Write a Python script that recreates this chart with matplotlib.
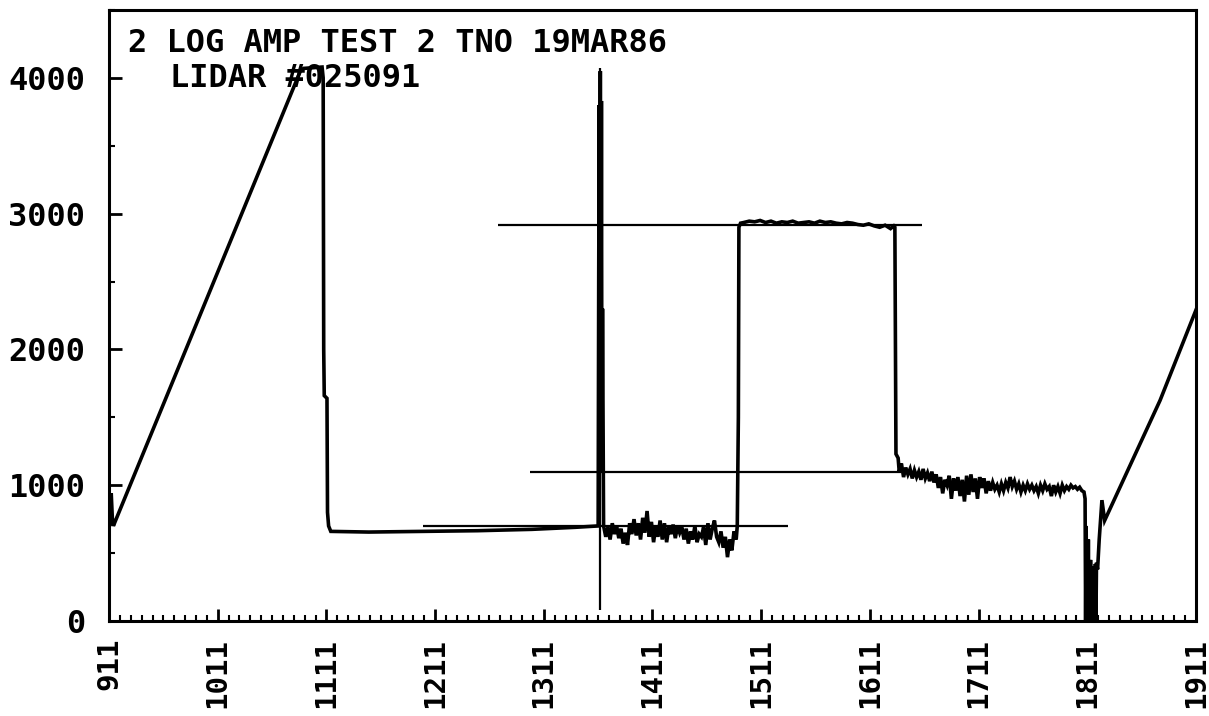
"""
Lidar log amp test trace, 19MAR86 - redrawn from the plotter output.
"""

import numpy as np
import matplotlib
matplotlib.use("Agg")
import matplotlib.pyplot as plt
from matplotlib.ticker import MultipleLocator, FixedLocator

# ---- 1. Data ----
# lead-in ramp and first drop
ramp_x = [911, 912, 913, 914, 915, 917, 1087, 1090, 1107, 1108, 1108.5, 1109, 1111.5, 1112, 1113, 1115,
          1150, 1200, 1250, 1300, 1340, 1361]
ramp_y = [690, 720, 940, 760, 700, 740, 4050, 4070, 4080, 4000, 2000, 1660, 1640, 800, 700, 660,
          655, 660, 665, 675, 690, 700]

# spike at the cursor
spike_x = [1361.5, 1362, 1362.5, 1363, 1363.5, 1364, 1364.5, 1365]
spike_y = [2500, 3800, 1200, 4050, 1100, 3830, 1100, 2300]

# noisy low section
low_x = [1366, 1368, 1370, 1372, 1374, 1376, 1378, 1380, 1382, 1384, 1386, 1388, 1390, 1392, 1394, 1396,
         1398, 1400, 1402, 1404, 1406, 1408, 1410, 1412, 1414, 1416, 1418, 1420, 1422, 1424, 1426, 1428,
         1430, 1432, 1434, 1436, 1438, 1440, 1442, 1444, 1446, 1448, 1450, 1452, 1454, 1456, 1458, 1460,
         1462, 1464, 1466, 1468, 1470, 1472, 1474, 1476, 1478, 1480, 1482, 1484, 1486, 1488]
low_y = [700, 620, 690, 600, 720, 640, 700, 610, 680, 570, 650, 560, 720, 640, 750, 630,
         720, 600, 760, 650, 810, 620, 730, 580, 700, 620, 740, 600, 720, 580, 690, 640,
         710, 610, 700, 650, 690, 600, 680, 570, 660, 600, 700, 580, 640, 620, 690, 560,
         720, 600, 680, 740, 620, 580, 660, 540, 620, 470, 600, 520, 660, 600]

# step up and the high plateau
high_x = [1489, 1490, 1490.5, 1492, 1495, 1500, 1505, 1510, 1515, 1520, 1525, 1530, 1535, 1540, 1545,
          1550, 1555, 1560, 1565, 1570, 1575, 1580, 1585, 1590, 1595, 1600, 1605, 1610, 1615, 1620,
          1625, 1630, 1633, 1634, 1634.5, 1635, 1637, 1638]
high_y = [700, 1500, 2900, 2930, 2935, 2945, 2940, 2950, 2935, 2945, 2930, 2940, 2935, 2945, 2930,
          2935, 2940, 2930, 2945, 2935, 2940, 2930, 2925, 2935, 2930, 2920, 2915, 2925, 2910, 2900,
          2915, 2890, 2910, 2900, 2000, 1230, 1200, 1100]

# noisy middle section
mid_x = [1640, 1642, 1644, 1646, 1648, 1650, 1652, 1654, 1656, 1658, 1660, 1662, 1664, 1666, 1668, 1670,
         1672, 1674, 1676, 1678, 1680, 1682, 1684, 1686, 1688, 1690, 1692, 1694, 1696, 1698, 1700, 1702,
         1704, 1706, 1708, 1710, 1712, 1714, 1716, 1718, 1720, 1722, 1724, 1726, 1728, 1730, 1732, 1734,
         1736, 1738, 1740, 1742, 1744, 1746, 1748, 1750, 1752, 1754, 1756, 1758, 1760, 1762, 1764, 1766,
         1768, 1770, 1772, 1774, 1776, 1778, 1780, 1782, 1784, 1786, 1788, 1790, 1792, 1794, 1796, 1798,
         1800, 1802, 1804, 1806, 1808]
mid_y = [1160, 1060, 1130, 1080, 1120, 1050, 1110, 1060, 1100, 1040, 1120, 1050, 1090, 1030, 1100, 1020,
         1080, 980, 1060, 940, 1040, 1000, 1070, 900, 1050, 960, 1060, 920, 1040, 880, 1070, 930,
         1080, 950, 1050, 900, 1060, 980, 1050, 940, 1030, 960, 1020, 970, 1000, 950, 1010, 960,
         1020, 980, 1060, 990, 1030, 970, 1010, 950, 1000, 960, 1010, 970, 1000, 960, 990, 940,
         1000, 960, 1010, 970, 990, 920, 1000, 950, 990, 940, 1000, 960, 990, 970, 1000, 980,
         990, 970, 985, 960, 950]

# dropout to zero and the closing ramp
end_x = [1809, 1809.5, 1810, 1810.5, 1811, 1811.5, 1812, 1812.5, 1813, 1813.5, 1814, 1814.5, 1815,
         1815.5, 1816, 1816.5, 1817, 1817.5, 1818, 1818.5, 1819, 1819.5, 1820.5, 1822, 1824.5, 1827,
         1878, 1911]
end_y = [900, 0, 700, 0, 500, 0, 600, 0, 300, 0, 450, 0, 350,
         0, 250, 0, 400, 0, 200, 420, 0, 430, 380, 600, 890, 740,
         1625, 2290]

# cursor lines
cursor_x = 1363
cursor_span = [80, 4074]
hline_y = [2920, 1100, 700]
hline_start = [1269, 1298, 1200]
hline_stop = [1659, 1640, 1536]

title_lines = ["2 LOG AMP TEST 2 TNO 19MAR86", "LIDAR #025091"]

# ---- 2. Plot ----
plt.rcParams["font.family"] = ["DejaVu Sans Mono"]
plt.rcParams["font.weight"] = "bold"

fig = plt.figure(figsize=(12.09, 7.16), dpi=100)
ax = fig.add_axes([0.0902, 0.1327, 0.8990, 0.8533])

trace_x = np.concatenate([ramp_x, spike_x, low_x, high_x, mid_x, end_x])
trace_y = np.concatenate([ramp_y, spike_y, low_y, high_y, mid_y, end_y])
ax.plot(trace_x, trace_y, color="black", lw=2.6, solid_joinstyle="miter")

ax.vlines(cursor_x, cursor_span[0], cursor_span[1], color="black", lw=1.6)
ax.hlines(hline_y, hline_start, hline_stop, color="black", lw=1.6)

ax.text(928.5, 4257, title_lines[0], fontsize=23, va="center", ha="left")
ax.text(967, 3993, title_lines[1], fontsize=23, va="center", ha="left")

ax.set_xlim(911, 1911)
ax.set_ylim(0, 4500)

ax.xaxis.set_major_locator(FixedLocator(np.arange(911, 1912, 100)))
ax.xaxis.set_minor_locator(FixedLocator(np.arange(911, 1912, 10)))
ax.yaxis.set_major_locator(MultipleLocator(1000))
ax.yaxis.set_minor_locator(MultipleLocator(500))

ax.tick_params(axis="both", which="major", direction="in", length=9, width=2)
ax.tick_params(axis="both", which="minor", direction="in", length=4, width=1.5)
ax.tick_params(axis="y", which="major", pad=17, labelsize=23)
ax.tick_params(axis="x", which="major", pad=12, labelsize=21, labelrotation=90)
ax.tick_params(top=False, right=False, which="both")

for s in ax.spines.values():
    s.set_linewidth(2.2)

plt.savefig("out.png", dpi=100)
